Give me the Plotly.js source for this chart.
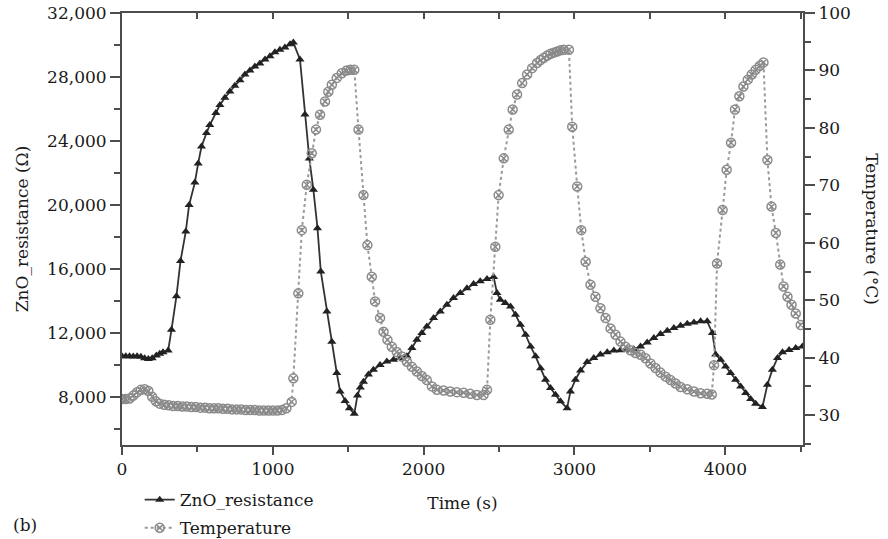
<!DOCTYPE html>
<html>
<head>
<meta charset="utf-8">
<script src="https://cdn.plot.ly/plotly-3.0.1.min.js"></script>
<style>html,body{margin:0;padding:0;background:#fff;}#chart{width:888px;height:539px;}</style>
</head>
<body>
<div id="chart"></div>
<script>
// ZnO resistance series (time in s, resistance in ohm)
const resTime = [0,25,50,75,100,125,150,175,200,228,250,272,306,328,361,388,423,445,483,505,527,560,582,622,649,682,715,748,782,815,848,881,914,948,981,1014,1047,1080,1114,1136,1180,1213,1242,1269,1296,1318,1358,1391,1424,1446,1479,1508,1540,1561,1580,1601,1634,1667,1711,1756,1800,1844,1889,1922,1955,1988,2021,2066,2110,2154,2198,2243,2287,2331,2375,2420,2464,2486,2508,2541,2576,2609,2642,2676,2709,2742,2775,2808,2841,2874,2907,2951,2973,3006,3040,3084,3128,3172,3217,3261,3305,3349,3393,3438,3482,3526,3570,3615,3659,3703,3748,3792,3836,3880,3914,3936,3969,4002,4035,4068,4102,4135,4168,4201,4246,4279,4312,4346,4379,4423,4467,4511];
const resValues = [10540,10540,10540,10530,10540,10520,10420,10380,10420,10600,10700,10800,10900,12200,14300,16500,18350,20000,21400,22600,23650,24500,25000,25750,26250,26700,27100,27450,27800,28150,28400,28650,28850,29100,29300,29550,29700,29850,30050,30150,29100,25650,22900,20950,18550,15850,13350,11450,9500,8350,7750,7300,6950,8100,8600,8950,9400,9700,10000,10220,10330,10440,10540,11060,11580,12000,12400,12940,13350,13770,14190,14500,14800,15060,15230,15380,15500,14500,14080,13870,13650,13140,12520,11890,11160,10540,9800,9080,8560,8140,7730,7300,8350,9080,9650,10180,10440,10650,10790,10900,10920,10940,10980,11160,11410,11690,11940,12140,12310,12460,12580,12660,12730,12730,12000,10650,10330,9910,9500,9080,8660,8250,7880,7580,7380,8770,9710,10440,10790,10940,11060,11160];

// Temperature series (time in s, temperature in deg C)
const tempTime = [0,25,50,75,100,125,150,175,200,225,250,280,310,340,370,400,430,460,490,520,550,580,610,640,670,700,730,760,790,820,850,880,910,940,970,1000,1030,1060,1090,1125,1136,1169,1192,1225,1258,1286,1313,1346,1368,1391,1424,1457,1490,1515,1540,1568,1601,1627,1656,1678,1711,1734,1760,1789,1822,1855,1889,1922,1955,1988,2021,2055,2088,2132,2176,2220,2265,2309,2353,2397,2420,2442,2475,2497,2531,2564,2590,2619,2653,2686,2719,2752,2775,2797,2820,2841,2863,2885,2907,2929,2963,2985,3018,3045,3074,3106,3139,3172,3206,3239,3272,3305,3338,3371,3404,3438,3471,3504,3537,3570,3604,3637,3670,3703,3748,3792,3836,3880,3910,3925,3945,3982,4009,4038,4064,4093,4120,4149,4175,4201,4228,4253,4279,4306,4335,4364,4386,4412,4439,4467,4500];
const tempValues = [32.8,32.8,32.9,33.4,34.0,34.4,34.5,34.2,33.2,32.4,32.0,31.8,31.7,31.6,31.6,31.5,31.5,31.4,31.4,31.3,31.3,31.2,31.2,31.2,31.1,31.1,31.0,31.0,31.0,30.9,30.9,30.9,30.8,30.8,30.8,30.8,30.8,30.9,31.2,32.3,36.4,51.2,62.2,70.1,75.6,79.7,82.3,84.6,86.3,87.5,88.7,89.5,90.0,90.1,90.1,79.7,68.3,59.6,54.1,49.8,46.9,44.5,43.1,41.9,41.0,40.2,39.3,38.4,37.6,36.8,36.1,35.0,34.4,34.3,34.1,34.0,33.9,33.7,33.5,33.5,34.4,46.6,59.3,68.3,74.7,79.7,83.2,85.8,87.8,89.3,90.4,91.3,91.8,92.2,92.6,92.9,93.1,93.3,93.5,93.6,93.6,80.2,69.8,62.2,56.7,52.7,50.6,48.6,46.9,45.1,44.0,42.8,41.9,41.3,40.8,40.5,39.9,39.0,38.2,37.4,36.7,36.1,35.5,34.9,34.5,34.1,33.8,33.7,33.6,38.7,56.4,65.7,72.7,77.4,83.2,85.5,87.2,88.4,89.3,90.1,90.8,91.4,74.4,66.3,61.7,56.2,52.4,50.6,49.2,47.7,45.7];

const seriesNames = ['ZnO_resistance', 'Temperature'];
const xTitle = 'Time (s)';
const yTitle = 'ZnO_resistance (Ω)';
const y2Title = 'Temperature (°C)';
const panelLabel = '(b)';

const AX = '#4d4d4d';
const FONT = 'DejaVu Serif';
const FS = 17;
const TXT = '#1a1a1a';

const traces = [
  {
    x: resTime, y: resValues, name: seriesNames[0], type: 'scatter', mode: 'lines+markers',
    legendgroup: 'a',
    line: {color: '#333333', width: 1.8},
    marker: {symbol: 'triangle-up', size: 8, color: '#222222'},
    xaxis: 'x', yaxis: 'y'
  },
  {
    x: tempTime, y: tempValues, name: seriesNames[1], type: 'scatter', mode: 'lines+markers',
    legendgroup: 'b',
    line: {color: '#9a9a9a', width: 2, dash: 'dot'},
    marker: {symbol: 'circle-x-open', size: 9, color: '#8a8a8a', line: {width: 1.5, color: '#8a8a8a'}},
    xaxis: 'x', yaxis: 'y2'
  },
  {
    x: [], y: [], xaxis: 'x2', yaxis: 'y', showlegend: false, hoverinfo: 'skip', type: 'scatter'
  }
];

const layout = {
  width: 888, height: 539,
  margin: {l: 122, r: 85, t: 13, b: 94, pad: 0, autoexpand: false},
  paper_bgcolor: '#ffffff', plot_bgcolor: '#ffffff',
  font: {family: FONT, size: FS, color: TXT},
  showlegend: true,
  legend: {
    x: 0.026, y: -0.086, xanchor: 'left', yanchor: 'top',
    traceorder: 'grouped', tracegroupgap: 3,
    bgcolor: 'rgba(0,0,0,0)', font: {family: FONT, size: FS, color: TXT},
    orientation: 'v'
  },
  xaxis: {
    range: [0, 4515], tick0: 0, dtick: 1000,
    ticks: 'outside', ticklen: 8, tickwidth: 2, tickcolor: AX,
    minor: {dtick: 500, ticks: 'outside', ticklen: 5, tickwidth: 2, tickcolor: AX, showgrid: false},
    showline: true, linewidth: 2, linecolor: AX,
    showgrid: false, zeroline: false,
    tickfont: {family: FONT, size: FS, color: TXT},
    title: {text: xTitle, standoff: 19, font: {family: FONT, size: FS, color: TXT}}
  },
  xaxis2: {
    overlaying: 'x', side: 'top', range: [0, 4515], tick0: 0, dtick: 500,
    ticks: 'inside', ticklen: 6, tickwidth: 2, tickcolor: AX,
    showticklabels: false, showline: true, linewidth: 2, linecolor: AX,
    showgrid: false, zeroline: false
  },
  yaxis: {
    range: [5000, 32000], tick0: 0, dtick: 4000, tickformat: ',d',
    ticks: 'outside', ticklen: 10, tickwidth: 2, tickcolor: AX,
    minor: {dtick: 2000, ticks: 'outside', ticklen: 6, tickwidth: 2, tickcolor: AX, showgrid: false},
    showline: true, linewidth: 2, linecolor: AX,
    showgrid: false, zeroline: false,
    tickfont: {family: FONT, size: FS, color: TXT},
    title: {text: yTitle, standoff: 14, font: {family: FONT, size: FS, color: TXT}}
  },
  yaxis2: {
    overlaying: 'y', side: 'right', range: [24.8, 100], tick0: 0, dtick: 10,
    ticks: 'outside', ticklen: 10, tickwidth: 2, tickcolor: AX,
    minor: {dtick: 5, ticks: 'outside', ticklen: 6, tickwidth: 2, tickcolor: AX, showgrid: false},
    showline: true, linewidth: 2, linecolor: AX,
    showgrid: false, zeroline: false,
    tickfont: {family: FONT, size: FS, color: TXT}
  },
  annotations: [
    {text: y2Title, xref: 'paper', yref: 'paper', x: 1.101, y: 0.5, textangle: 90,
     showarrow: false, xanchor: 'center', yanchor: 'middle',
     font: {family: FONT, size: FS, color: TXT}},
    {text: panelLabel, xref: 'paper', yref: 'paper', x: -0.1424, y: -0.185,
     showarrow: false, xanchor: 'center', yanchor: 'middle',
     font: {family: FONT, size: FS, color: TXT}}
  ]
};

Plotly.newPlot('chart', traces, layout, {staticPlot: true, displayModeBar: false});
</script>
</body>
</html>
